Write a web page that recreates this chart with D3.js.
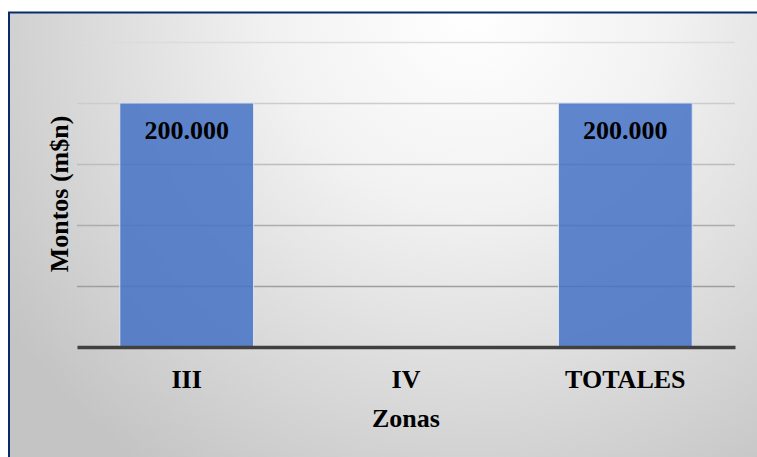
<!DOCTYPE html>
<html><head><meta charset="utf-8">
<script src="https://cdn.jsdelivr.net/npm/d3@7"></script>
<style>body{margin:0;background:#fff}svg{display:block}
.t{font-family:"Liberation Serif","Times New Roman","DejaVu Serif",serif;font-weight:bold;font-size:26px;fill:#000}</style>
</head><body>
<script>
const categories = ["III", "IV", "TOTALES"];
const values = [200000, 0, 200000];
const valueLabels = ["200.000", "", "200.000"];
const yTicks = [0, 50000, 100000, 150000, 200000, 250000];
const xTitle = "Zonas";
const yTitle = "Montos (m$n)";

const W = 757, H = 457;
const svg = d3.select("body").append("svg").attr("width", W).attr("height", H);
const defs = svg.append("defs");
const rg = defs.append("radialGradient").attr("id","bg")
  .attr("gradientUnits","userSpaceOnUse").attr("cx",470).attr("cy",10).attr("r",560);
rg.append("stop").attr("offset","0").attr("stop-color","#ffffff");
rg.append("stop").attr("offset","0.35").attr("stop-color","#f2f2f2");
rg.append("stop").attr("offset","1").attr("stop-color","#c4c4c4");

svg.append("rect").attr("x",9).attr("y",12.5).attr("width",W).attr("height",H)
  .attr("fill","url(#bg)").attr("stroke","#0b2a6b").attr("stroke-width",2);

const m = {l:77, r:735, t:42, b:347};
const x = d3.scaleBand().domain(categories).range([m.l, m.r]).paddingInner(0.39).paddingOuter(0.195);
const y = d3.scaleLinear().domain([0, 250000]).range([m.b, m.t]);

const gridColor = d3.scaleLinear().domain([250000, 0]).range(["#dcdcdc", "#8e8e8e"]);
svg.append("g").selectAll("line").data(yTicks.filter(d => d > 0)).join("line")
  .attr("x1", m.l).attr("x2", m.r)
  .attr("y1", d => Math.round(y(d)) + 0.5).attr("y2", d => Math.round(y(d)) + 0.5)
  .attr("stroke", d => gridColor(d)).attr("stroke-width", 1.5);

svg.append("g").selectAll("rect").data(categories).join("rect")
  .attr("x", d => x(d)).attr("width", x.bandwidth())
  .attr("y", (d,i) => y(values[i])).attr("height", (d,i) => y(0) - y(values[i]))
  .attr("fill", "#4472c4").attr("fill-opacity", 0.85)
  .attr("stroke", "#dbe4f3").attr("stroke-width", 1);

const xAxis = d3.axisBottom(x).tickSize(0).tickPadding(0);
const ax = svg.append("g").attr("transform", `translate(0,${y(0)})`).call(xAxis);
ax.select(".domain").attr("stroke","#404040").attr("stroke-width",3.5);
ax.selectAll("text").attr("class","t").attr("dy", null).attr("y", 41)
  .attr("font-size", null).attr("font-family", null);
ax.attr("font-size", null).attr("font-family", null);

svg.append("g").selectAll("text").data(categories).join("text").attr("class","t")
  .attr("x", d => x(d) + x.bandwidth()/2).attr("y", (d,i) => y(values[i]) + 36)
  .attr("text-anchor","middle")
  .text((d,i) => valueLabels[i]);

svg.append("text").attr("class","t").attr("x", 406).attr("y", 427).attr("text-anchor","middle").text(xTitle);

svg.append("text").attr("class","t").attr("transform","translate(68,194) rotate(-90)").attr("text-anchor","middle").text(yTitle);
</script>
</body></html>
